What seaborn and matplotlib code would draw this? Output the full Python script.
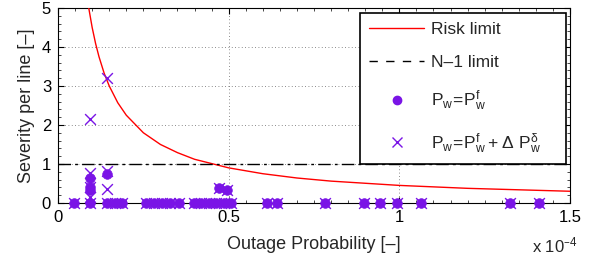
import numpy as np
import pandas as pd
import matplotlib
matplotlib.use('Agg')
import matplotlib.pyplot as plt
from matplotlib.lines import Line2D
from matplotlib.ticker import FuncFormatter, AutoMinorLocator
import seaborn as sns

# values (x in units of 1e-4)
risk_x = [0.09, 0.10, 0.11, 0.12, 0.135, 0.15, 0.175, 0.20, 0.25, 0.30, 0.35,
          0.40, 0.50, 0.60, 0.70, 0.80, 1.00, 1.20, 1.50]
risk_y = [5.0, 4.5, 4.09, 3.75, 3.33, 3.0, 2.57, 2.25, 1.8, 1.5, 1.29,
          1.12, 0.9, 0.75, 0.64, 0.56, 0.45, 0.375, 0.3]

n1_limit = 1.0

# lines with zero severity (same for both cases)
zero_x = [0.048, 0.094, 0.143, 0.167, 0.188, 0.258, 0.282, 0.305, 0.328, 0.355,
          0.398, 0.420, 0.442, 0.464, 0.486, 0.508, 0.613, 0.642, 0.783,
          0.895, 0.944, 0.993, 1.062, 1.325, 1.41]

# P_w = P_w^f, non-zero severities
dot_x = [0.094, 0.094, 0.094, 0.143, 0.472, 0.496]
dot_y = [0.64, 0.42, 0.32, 0.74, 0.38, 0.32]

# P_w = P_w^f + dP, non-zero severities
cross_x = [0.094, 0.094, 0.094, 0.094, 0.143, 0.143, 0.143, 0.472, 0.496]
cross_y = [2.15, 0.76, 0.42, 0.16, 3.2, 0.82, 0.36, 0.38, 0.32]

scale = 1e-4
purple = '#7a14e6'

df_risk = pd.DataFrame({'p': np.array(risk_x) * scale, 's': risk_y})
df_dot = pd.DataFrame({'p': np.array(zero_x + dot_x) * scale,
                       's': [0.0] * len(zero_x) + dot_y})
df_cross = pd.DataFrame({'p': np.array(zero_x + cross_x) * scale,
                         's': [0.0] * len(zero_x) + cross_y})

sns.set_style('ticks')
plt.rcParams['font.family'] = ['Liberation Sans', 'DejaVu Sans']
plt.rcParams['mathtext.default'] = 'regular'

fig = plt.figure(figsize=(6.07, 2.66), dpi=100)
ax = fig.add_axes([0.0956, 0.237, 0.8435, 0.733])

sns.lineplot(data=df_risk, x='p', y='s', color='red', linewidth=1.0,
             ax=ax, zorder=3)
ax.axhline(n1_limit, color='black', linewidth=1.0,
           linestyle=(0, (9, 3, 2, 3)), zorder=3)
sns.scatterplot(data=df_dot, x='p', y='s', marker='o', s=48, color=purple,
                edgecolor=purple, linewidth=0.5, ax=ax, clip_on=False, zorder=4)
sns.scatterplot(data=df_cross, x='p', y='s', marker='x', s=60, color=purple,
                linewidth=1.0, ax=ax, clip_on=False, zorder=5)

ax.set_xlim(0, 1.5 * scale)
ax.set_ylim(0, 5)
ax.set_xticks(np.array([0, 0.5, 1.0, 1.5]) * scale)
ax.xaxis.set_major_formatter(FuncFormatter(lambda v, pos: '%g' % round(v / scale, 3)))
ax.set_yticks([0, 1, 2, 3, 4, 5])
ax.xaxis.set_minor_locator(AutoMinorLocator(10))
ax.yaxis.set_minor_locator(AutoMinorLocator(5))
ax.tick_params(which='both', direction='in', top=True, right=True,
               labelsize=12, colors='black')
ax.tick_params(which='major', length=4, width=0.8, pad=5)
ax.tick_params(which='minor', length=2, width=0.5)
for sp in ax.spines.values():
    sp.set_linewidth(0.8)
    sp.set_color('black')
ax.grid(True, which='major', color='#666666', linestyle=(0, (1, 3)), linewidth=0.6)

ax.set_xlabel('Outage Probability [–]', fontsize=13, labelpad=8)
ax.set_ylabel('Severity per line [–]', fontsize=13, labelpad=5)
ax.text(1.014, -0.22, r'x 10$^{–4}$', transform=ax.transAxes,
        ha='right', va='center', fontsize=12)

handles = [
    Line2D([], [], color='red', linewidth=1.0),
    Line2D([], [], color='black', linewidth=1.0, linestyle=(0, (6, 6))),
    Line2D([], [], color=purple, marker='o', linestyle='none', markersize=6),
    Line2D([], [], color=purple, marker='x', linestyle='none', markersize=7,
           markeredgewidth=1.0),
]
labels = ['Risk limit', 'N–1 limit', r'$P_w\!=\!P_w^f$',
          r'$P_w\!=\!P_w^f + \Delta\ P_w^\delta$']
leg = ax.legend(handles, labels, loc='upper right',
                bbox_to_anchor=(0.590, 0.0, 0.402, 0.974), mode='expand',
                borderaxespad=0, fontsize=12.5, frameon=True, fancybox=False,
                framealpha=1, edgecolor='black', handlelength=3.2,
                handletextpad=0.4, labelspacing=1.05, borderpad=0.5)
leg.get_frame().set_linewidth(1.2)

fig.savefig('out.png', dpi=100)
